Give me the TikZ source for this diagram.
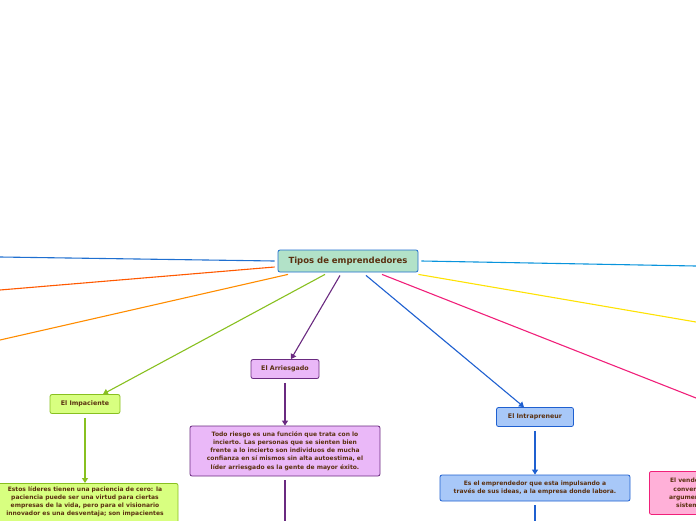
\documentclass[tikz,border=0pt]{standalone}
\usepackage{fontspec}
\setmainfont{DejaVu Sans}
\usetikzlibrary{arrows.meta}
\definecolor{rootfill}{HTML}{B2E2C8}
\definecolor{rootdraw}{HTML}{1F6FD0}
\definecolor{txt}{HTML}{5A3010}
\definecolor{arrfill}{HTML}{EAB8F8}
\definecolor{arrdraw}{HTML}{6A2A80}
\definecolor{impfill}{HTML}{D8FF80}
\definecolor{impdraw}{HTML}{88C020}
\definecolor{intfill}{HTML}{A8C8F8}
\definecolor{intdraw}{HTML}{1F60D0}
\definecolor{pinkfill}{HTML}{FFB0D8}
\definecolor{pinkdraw}{HTML}{F0207A}
\begin{document}
\begin{tikzpicture}[x=1pt,y=-1pt]
        \tikzstyle{arrow} = [line width=1.1pt,-{Triangle[width=6pt,length=5pt]}]
        \tikzstyle{link} = [line width=1.1pt]
        \tikzstyle{topic} = [rectangle, rounded corners=2pt, minimum height=19pt, text centered, draw, line width=0.8pt, text=txt, font=\fontsize{6.3}{7}\selectfont\bfseries]
        \tikzstyle{note} = [rectangle, rounded corners=2pt, text centered, draw, line width=0.8pt, text=txt, align=center, inner sep=3pt, font=\fontsize{6}{8.2}\selectfont\bfseries]
        \useasboundingbox (0,0) rectangle (696,520);
        \clip (0,0) rectangle (696,520);
        \node (root) [topic, fill=rootfill, draw=rootdraw, minimum width=140pt, minimum height=22pt, font=\fontsize{8.5}{10}\selectfont\bfseries] at (348,261) {Tipos de emprendedores};
        \node (arr) [topic, fill=arrfill, draw=arrdraw, minimum width=68pt] at (285,369) {El Arriesgado};
        \node (arrtext) [note, fill=arrfill, draw=arrdraw, minimum width=190pt, minimum height=50pt] at (285,451) {Todo riesgo es una función que trata con lo\\incierto. Las personas que se sienten bien\\frente a lo incierto son individuos de mucha\\confianza en sí mismos sin alta autoestima, el\\líder arriesgado es la gente de mayor éxito.};
        \node (imp) [topic, fill=impfill, draw=impdraw, minimum width=70pt] at (85,404) {El Impaciente};
        \node (imptext) [note, fill=impfill, draw=impdraw, minimum width=186pt, anchor=north] at (85,483) {Estos líderes tienen una paciencia de cero: la\\paciencia puede ser una virtud para ciertas\\empresas de la vida, pero para el visionario\\innovador es una desventaja; son impacientes\\\phantom{x}};
        \node (intra) [topic, fill=intfill, draw=intdraw, minimum width=77pt] at (535,417) {El Intrapreneur};
        \node (inttext) [note, fill=intfill, draw=intdraw, minimum width=190pt, minimum height=26pt] at (535,488) {Es el emprendedor que esta impulsando a\\través de sus ideas, a la empresa donde labora.};
        \node (vende) [note, fill=pinkfill, draw=pinkdraw, minimum width=80pt, minimum height=43pt, anchor=north west] at (649,471) {El vende su\\convence\\argumentos\\sistema};
        % ramas fuera del cuadro
        \coordinate (bl) at (0,257);
        \coordinate (rl) at (0,290);
        \coordinate (ol) at (0,340);
        \coordinate (cr) at (696,266);
        \coordinate (yr) at (696,322);
        \coordinate (pr) at (696,398);
        \coordinate (arrend) at (285,525);
        \coordinate (intend) at (535,525);

        \draw [link, draw=rootdraw] ([xshift=-3pt]root.west) -- (bl);
        \draw [link, draw=orange!70!red] ([xshift=-3pt,yshift=-6pt]root.west) -- (rl);
        \draw [link, draw=orange!90!yellow] ([xshift=-60pt,yshift=-2pt]root.south) -- (ol);
        \draw [link, draw=cyan!80!blue] ([xshift=3pt]root.east) -- (cr);
        \draw [link, draw=yellow!85!orange] ([yshift=-2pt]root.south east) -- (yr);
        \draw [link, draw=pinkdraw] ([xshift=34pt,yshift=-2pt]root.south) -- (pr);
        \draw [arrow, draw=impdraw] ([xshift=-23pt,yshift=-2pt]root.south) -- ([xshift=18pt]imp.north);
        \draw [arrow, draw=arrdraw] ([xshift=-8pt,yshift=-3pt]root.south) -- ([xshift=6pt]arr.north);
        \draw [arrow, draw=intdraw] ([xshift=18pt,yshift=-3pt]root.south) -- ([xshift=-11pt]intra.north);
        \draw [arrow, draw=impdraw] ([yshift=-4pt]imp.south) -- (imptext.north);
        \draw [arrow, draw=arrdraw] ([yshift=-4pt]arr.south) -- (arrtext.north);
        \draw [arrow, draw=intdraw] ([yshift=-4pt]intra.south) -- (inttext.north);
        \draw [link, draw=arrdraw] ([yshift=-4pt]arrtext.south) -- (arrend);
        \draw [link, draw=intdraw] ([yshift=-4pt]inttext.south) -- (intend);
\end{tikzpicture}
\end{document}
